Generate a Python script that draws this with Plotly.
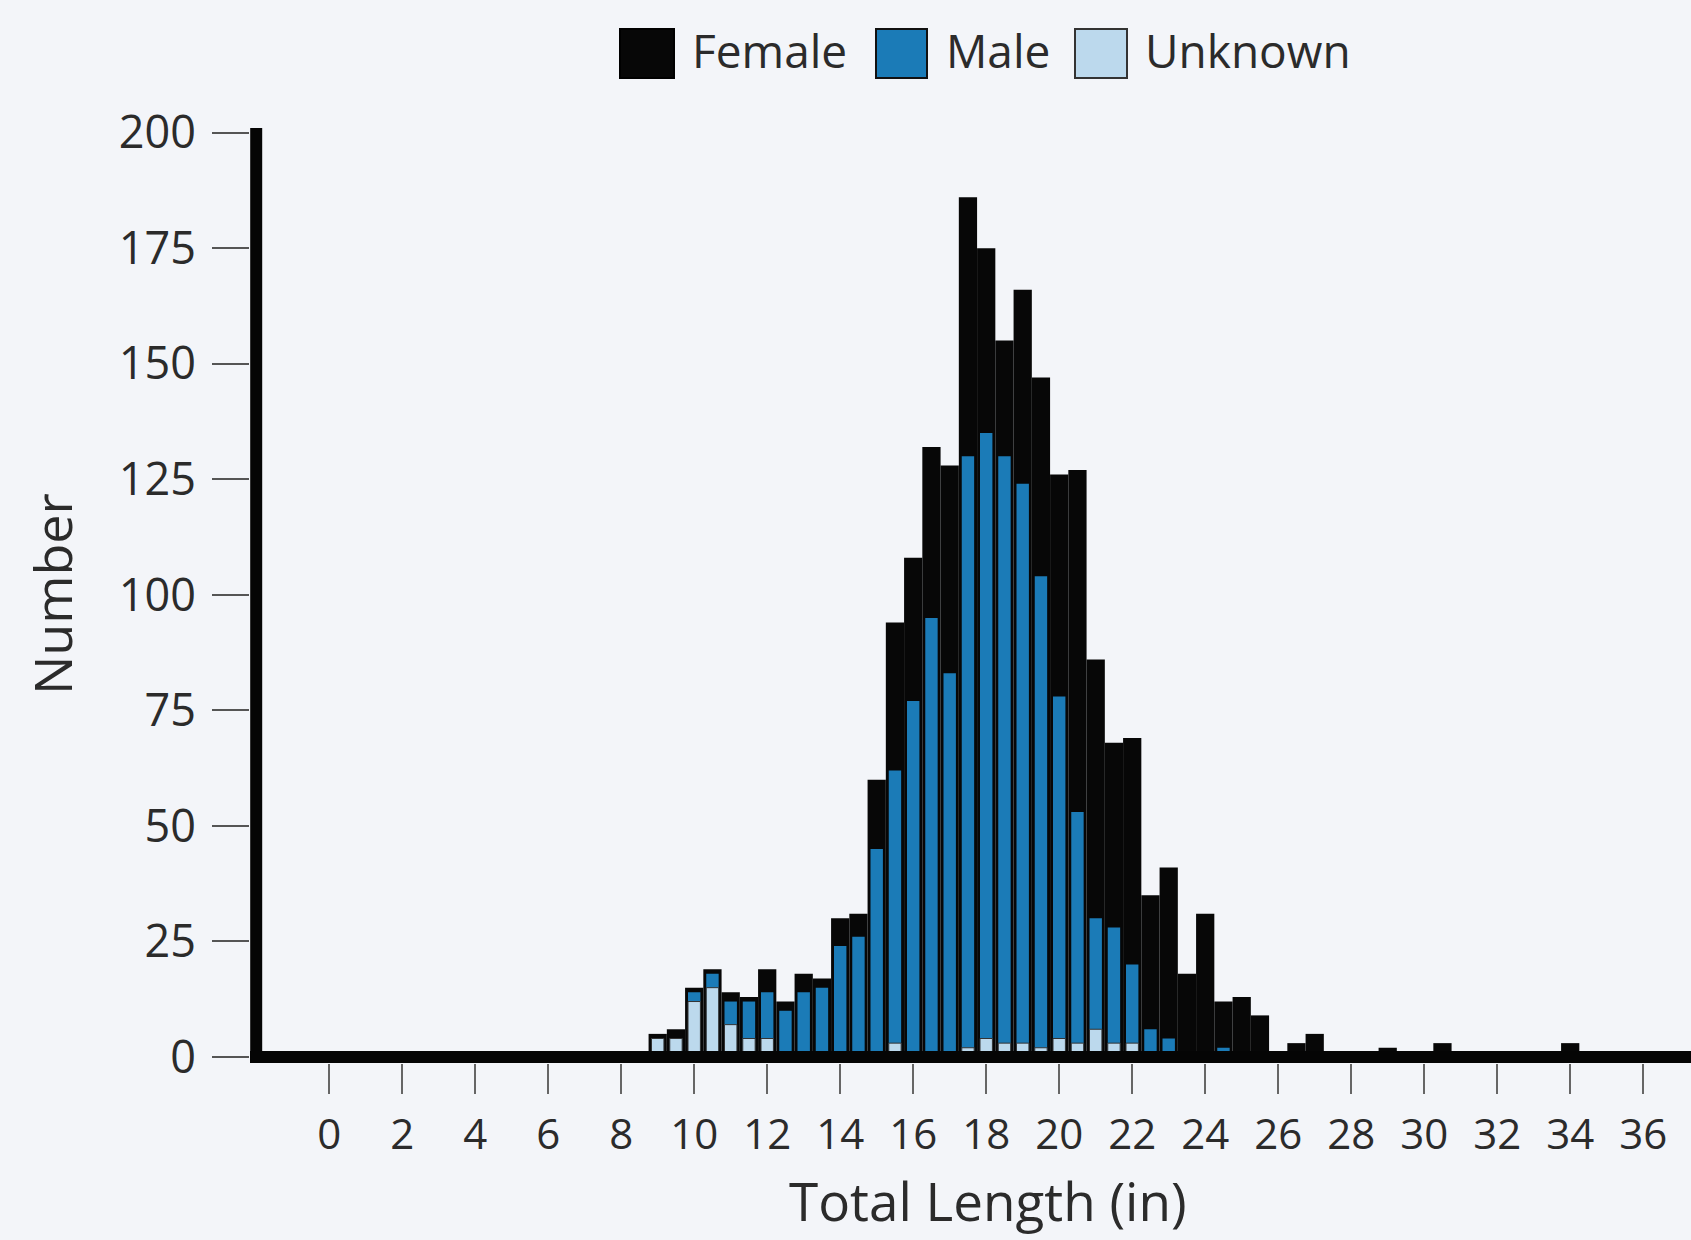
import plotly.graph_objects as go
import numpy as np

# ---------------- data ----------------
bin_centers = [9.0, 9.5, 10.0, 10.5, 11.0, 11.5, 12.0, 12.5, 13.0, 13.5,
               14.0, 14.5, 15.0, 15.5, 16.0, 16.5, 17.0, 17.5, 18.0, 18.5,
               19.0, 19.5, 20.0, 20.5, 21.0, 21.5, 22.0, 22.5, 23.0, 23.5,
               24.0, 24.5, 25.0, 25.5, 26.0, 26.5, 27.0, 27.5, 28.0, 28.5,
               29.0, 29.5, 30.0, 30.5, 31.0, 31.5, 32.0, 32.5, 33.0, 33.5,
               34.0, 34.5, 35.0, 35.5, 36.0, 36.5, 37.0]

unknown = [4, 4, 12, 15, 7, 4, 4, 0, 0, 0,
           0, 0, 0, 3, 0, 0, 0, 2, 4, 3,
           3, 2, 4, 3, 6, 3, 3, 0, 0, 0,
           0, 0, 0, 0, 0, 0, 0, 0, 0, 0,
           0, 0, 0, 0, 0, 0, 0, 0, 0, 0,
           0, 0, 0, 0, 0, 0, 0]

male = [0, 0, 2, 3, 5, 8, 10, 10, 14, 15,
        24, 26, 45, 59, 77, 95, 83, 128, 131, 127,
        121, 102, 74, 50, 24, 25, 17, 6, 4, 0,
        0, 2, 0, 0, 0, 0, 0, 0, 0, 0,
        0, 0, 0, 0, 0, 0, 0, 0, 0, 0,
        0, 0, 0, 0, 0, 0, 0]

female = [1, 2, 1, 1, 2, 1, 5, 2, 4, 2,
          6, 5, 15, 32, 31, 37, 45, 56, 40, 25,
          42, 43, 48, 74, 56, 40, 49, 29, 37, 18,
          31, 10, 13, 9, 1, 3, 5, 1, 1, 1,
          2, 1, 1, 3, 0, 0, 0, 0, 0, 0,
          3, 0, 0, 1, 0, 1, 1]

x_tick_vals = [0, 2, 4, 6, 8, 10, 12, 14, 16, 18, 20, 22, 24, 26, 28, 30, 32, 34, 36]
y_tick_vals = [0, 25, 50, 75, 100, 125, 150, 175, 200]

legend_labels = ["Female", "Male", "Unknown"]
x_title = "Total Length (in)"
y_title = "Number"

# ---------------- styles ----------------
C_FEMALE = "#070707"
C_MALE = "#1b7bb7"
C_UNKNOWN = "#bcd9ed"
BG = "#f3f5f9"
TXT = "#2b2b2b"
FONT = "Open Sans"

W, H = 1691, 1240
ML, MR, MT, MB = 250, 0, 126, 177
PX_PER_X = 36.5
PX_PER_Y = 4.622
X0 = -2.17
X1 = X0 + (W - ML - MR) / PX_PER_X
Y0 = -1.3
Y1 = Y0 + (H - MT - MB) / PX_PER_Y

# stacked heights (unknown at bottom, male above, female on top)
unk = np.array(unknown)
cum_male = unk + np.array(male)
total = cum_male + np.array(female)

fig = go.Figure()
fig.add_trace(go.Bar(x=bin_centers, y=total, width=0.5, name="Female",
                     marker=dict(color=C_FEMALE, line=dict(width=0)),
                     showlegend=False))
fig.add_trace(go.Bar(x=bin_centers, y=cum_male, width=0.34, name="Male",
                     marker=dict(color=C_MALE, line=dict(width=0)),
                     showlegend=False))
fig.add_trace(go.Bar(x=bin_centers, y=unk, width=0.34, name="Unknown",
                     marker=dict(color=C_UNKNOWN, line=dict(width=1, color="#333333")),
                     showlegend=False))


def px_x(p):
    return (p - ML) / (W - ML - MR)


def px_y(p):
    return 1 - (p - MT) / (H - MT - MB)


shapes = [
    # axis lines (thick, centered on zero)
    dict(type="line", xref="paper", yref="y", x0=0, x1=1, y0=0, y1=0,
         line=dict(color="#050505", width=12), layer="above"),
    dict(type="line", xref="x", yref="y", x0=-2.0, x1=-2.0, y0=Y0, y1=201,
         line=dict(color="#050505", width=12), layer="above"),
]

# manual legend (large swatches)
legend_items = [
    (legend_labels[0], C_FEMALE, "#000000", 620, 674, 690),
    (legend_labels[1], C_MALE, "#111111", 876, 927, 944),
    (legend_labels[2], C_UNKNOWN, "#333333", 1075, 1127, 1143),
]
annotations = []
for lab, fill, edge, sx0, sx1, tx in legend_items:
    shapes.append(dict(type="rect", xref="paper", yref="paper",
                       x0=px_x(sx0), x1=px_x(sx1), y0=px_y(78), y1=px_y(29),
                       fillcolor=fill, line=dict(color=edge, width=2), layer="above"))
    annotations.append(dict(text=lab, xref="paper", yref="paper", x=px_x(tx), y=px_y(50),
                            xanchor="left", yanchor="middle", showarrow=False,
                            font=dict(family=FONT, size=46, color=TXT)))

annotations.append(dict(text=x_title, xref="x", yref="paper", x=18.05, y=px_y(1200),
                        xanchor="center", yanchor="middle", showarrow=False,
                        font=dict(family=FONT, size=53, color=TXT)))
annotations.append(dict(text=y_title, xref="paper", yref="y", x=px_x(52), y=100,
                        xanchor="center", yanchor="middle", showarrow=False, textangle=-90,
                        font=dict(family=FONT, size=52, color=TXT)))

fig.update_layout(
    width=W, height=H,
    margin=dict(l=ML, r=MR, t=MT, b=MB, pad=0),
    paper_bgcolor=BG, plot_bgcolor=BG,
    barmode="overlay",
    showlegend=False,
    shapes=shapes,
    annotations=annotations,
    font=dict(family=FONT, color=TXT),
    xaxis=dict(range=[X0, X1], tickmode="array", tickvals=x_tick_vals,
               ticks="outside", ticklen=30, tickwidth=2, tickcolor="#666666",
               showgrid=False, zeroline=False, showline=False,
               tickfont=dict(family=FONT, size=42, color=TXT),
               ticklabelstandoff=5, fixedrange=True),
    yaxis=dict(range=[Y0, Y1], tickmode="array", tickvals=y_tick_vals,
               ticks="outside", ticklen=37, tickwidth=2, tickcolor="#555555",
               showgrid=False, zeroline=False, showline=False,
               tickfont=dict(family=FONT, size=45, color=TXT),
               ticklabelstandoff=7, fixedrange=True),
)

fig.write_html("out.html", config={"displayModeBar": False},
               post_script="document.body.style.margin='0px';document.body.style.background='" + BG + "';")
